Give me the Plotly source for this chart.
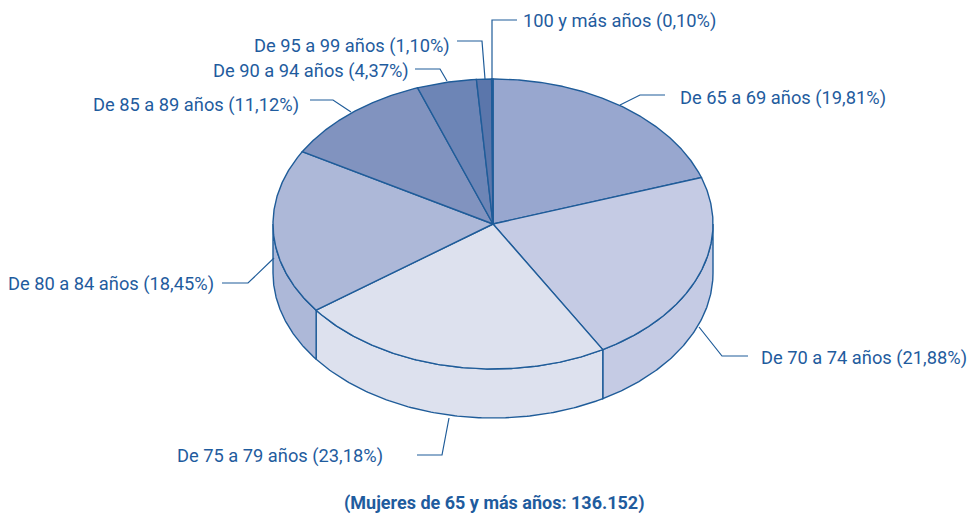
import numpy as np
import plotly.graph_objects as go

categories = ["De 65 a 69 años", "De 70 a 74 años", "De 75 a 79 años", "De 80 a 84 años",
              "De 85 a 89 años", "De 90 a 94 años", "De 95 a 99 años", "100 y más años"]
shares = [19.81, 21.88, 23.18, 18.45, 11.12, 4.37, 1.10, 0.10]
share_labels = ["19,81%", "21,88%", "23,18%", "18,45%", "11,12%", "4,37%", "1,10%", "0,10%"]
colors = ["#98a7cf", "#c5cbe4", "#dde1ee", "#adb8d8", "#8193bf", "#6d85b6", "#5b76ab", "#2a5c9a"]
footer = "(Mujeres de 65 y más años: 136.152)"

LINE = "#1f5c99"
TEXT = "#1f5c9e"
FONT = "Roboto, Liberation Sans, Arial"
CX, CY, RX, RY, DEPTH = 493, 224, 220, 145, 49

# layout of labels: text anchor and leader elbow path
label_layout = [
    (678, 98, "left", [(620, 105), (640, 95), (665, 95)]),
    (759, 358, "left", [(699, 327), (722, 356), (748, 356)]),
    (385, 456, "right", [(449, 418), (442, 455), (417, 455)]),
    (216, 284, "right", [(274, 258), (248, 283), (222, 283)]),
    (301, 105, "right", [(351, 112), (333, 100), (310, 100)]),
    (411, 71, "right", [(447, 81), (440, 69), (415, 69)]),
    (452, 46, "right", [(485, 79), (482, 41), (457, 41)]),
    (521, 21, "left", [(492, 79), (492, 20), (517, 20)]),
]


def pt(deg, dy=0.0):
    a = np.radians(deg)
    return CX + RX * np.sin(a), CY - RY * np.cos(a) + dy


fig = go.Figure()
edges = np.concatenate([[0], np.cumsum(shares)]) / sum(shares) * 360

# side walls (front half of the drum)
for i, col in enumerate(colors):
    a0, a1 = max(edges[i], 90), min(edges[i + 1], 270)
    if a1 <= a0:
        continue
    t = np.linspace(a0, a1, 120)
    x1, y1 = pt(t)
    x2, y2 = pt(t[::-1], DEPTH)
    fig.add_trace(go.Scatter(x=np.r_[x1, x2, x1[0]], y=np.r_[y1, y2, y1[0]], mode="lines",
                             fill="toself", fillcolor=col, line=dict(color=LINE, width=1.4),
                             hoverinfo="skip", showlegend=False))

# top face
for i, col in enumerate(colors):
    t = np.linspace(edges[i], edges[i + 1], 200)
    x, y = pt(t)
    fig.add_trace(go.Scatter(x=np.r_[CX, x, CX], y=np.r_[CY, y, CY], mode="lines",
                             fill="toself", fillcolor=col, line=dict(color=LINE, width=1.4),
                             name=categories[i], text=share_labels[i], hoverinfo="name+text",
                             showlegend=False))

# leaders and labels
for cat, lab, (tx, ty, anchor, path) in zip(categories, share_labels, label_layout):
    xs, ys = zip(*path)
    fig.add_trace(go.Scatter(x=xs, y=ys, mode="lines", line=dict(color=LINE, width=1.2),
                             hoverinfo="skip", showlegend=False))
    fig.add_annotation(x=tx, y=ty, text=f"{cat} ({lab})", showarrow=False, xanchor=anchor,
                       yanchor="middle", xref="x", yref="y",
                       font=dict(family=FONT, size=18.3, color=TEXT))

fig.add_annotation(x=494, y=503, text=f"<b>{footer}</b>", showarrow=False, xanchor="center",
                   yanchor="middle", xref="x", yref="y",
                   font=dict(family=FONT, size=18, color=TEXT))

fig.update_layout(width=972, height=513, margin=dict(l=0, r=0, t=0, b=0),
                  paper_bgcolor="white", plot_bgcolor="white",
                  xaxis=dict(range=[0, 972], visible=False, fixedrange=True),
                  yaxis=dict(range=[513, 0], visible=False, fixedrange=True))
fig.write_html("out.html", config=dict(displayModeBar=False),
               post_script="document.body.style.margin='0';document.body.style.overflow='hidden';")
